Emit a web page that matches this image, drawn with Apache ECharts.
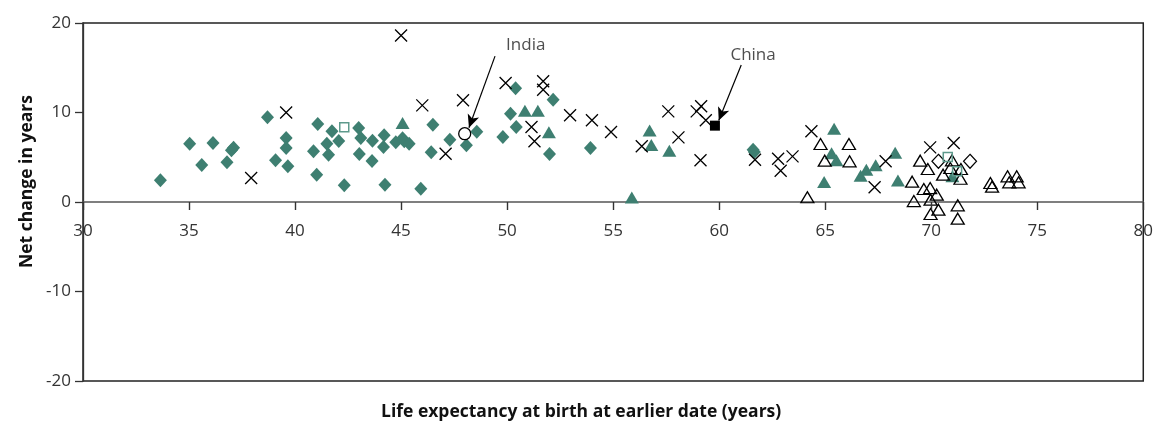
<!DOCTYPE html>
<html>
<head>
<meta charset="utf-8">
<script src="https://cdn.jsdelivr.net/npm/echarts@6/dist/echarts.min.js"></script>
<style>
html,body{margin:0;padding:0;background:#fff;}
#chart{width:1156px;height:427px;}
</style>
</head>
<body>
<div id="chart"></div>
<script>
// ---- data: [life expectancy at earlier date, net change in years] ----
const greenDiamonds = [[33.65,2.42],[35.03,6.5],[35.6,4.13],[36.13,6.59],[36.79,4.43],[37.0,5.78],[37.1,6.07],[38.7,9.46],[39.08,4.66],[39.58,7.15],[39.58,6.03],[39.66,3.99],[41.07,8.72],[40.87,5.66],[41.02,3.05],[41.74,7.9],[41.5,6.5],[41.58,5.29],[42.06,6.82],[42.32,1.86],[43.0,8.27],[43.1,7.15],[43.03,5.36],[43.65,6.85],[43.63,4.58],[44.2,7.45],[44.17,6.15],[44.24,1.94],[44.75,6.67],[45.07,7.12],[45.15,6.78],[45.38,6.51],[46.5,8.64],[46.42,5.55],[45.93,1.49],[47.3,6.96],[48.08,6.33],[48.57,7.86],[49.8,7.26],[50.4,12.7],[50.16,9.87],[50.43,8.38],[52.17,11.43],[52.0,5.36],[53.93,6.03],[61.6,5.85],[61.66,5.59]];
const greenTriangles = [[45.07,8.83],[50.84,10.2],[51.45,10.2],[51.97,7.79],[55.88,0.5],[56.72,8.0],[56.8,6.37],[57.65,5.74],[65.42,8.19],[65.3,5.44],[65.53,4.66],[64.95,2.23],[66.67,2.94],[66.94,3.6],[67.38,4.1],[68.3,5.5],[68.43,2.4],[71.0,2.87]];
const crosses = [[37.93,2.68],[39.58,10.0],[45.0,18.6],[46.0,10.8],[47.1,5.4],[47.92,11.36],[49.93,13.3],[51.15,8.38],[51.29,6.78],[51.7,13.5],[51.7,12.55],[52.97,9.69],[54.0,9.13],[54.9,7.82],[56.35,6.22],[57.6,10.13],[58.08,7.22],[58.94,10.13],[59.15,10.7],[59.37,9.13],[59.12,4.66],[61.69,4.73],[62.78,4.84],[62.9,3.5],[63.46,5.1],[64.35,7.9],[67.33,1.64],[67.85,4.55],[69.95,6.1],[71.06,6.59]];
const hollowTriangles = [[64.16,0.53],[64.78,6.48],[64.98,4.62],[66.12,6.48],[66.15,4.55],[69.1,2.27],[69.18,0.1],[69.48,4.62],[69.84,3.69],[70.9,3.8],[71.4,3.69],[70.56,3.05],[71.38,2.6],[69.65,1.45],[69.95,1.56],[70.26,0.82],[69.97,0.26],[69.97,-1.34],[70.34,-0.86],[71.25,-0.37],[71.25,-1.86],[72.79,2.12],[72.87,1.71],[73.6,2.87],[74.03,2.87],[73.68,2.2],[74.12,2.2],[70.98,4.66]];
const hollowDiamonds = [[70.34,4.55],[71.83,4.55]];
const hollowSquares = [[42.32,8.34],[70.78,5.03],[71.22,3.43]];
const india = [[48.0,7.63]];
const china = [[59.8,8.53]];
// annotations: label position and arrow (from, to) in data units
const annotationNames = ['India','China'];
const annotationText = [[50.88,17.5],[61.6,16.4]];
const annotationArrows = [[[49.43,16.3],[48.2,8.3]],[[61.04,15.3],[59.98,9.1]]];
const xTicks = {min:30,max:80,interval:5};
const yTicks = {min:-20,max:20,interval:10};
const xTickValues = [30,35,40,45,50,55,60,65,70,75,80];

const TEAL = '#3e7f71';
const FONT = "'Open Sans', sans-serif";
const chart = echarts.init(document.getElementById('chart'), null, {renderer:'canvas'});

const GRID_TOP = 23, GRID_BOTTOM = 46, H = 427;
const gridH = H - GRID_TOP - GRID_BOTTOM;
const zeroOffset = -gridH * (0 - yTicks.min) / (yTicks.max - yTicks.min);
const tickLenData = 8 * (yTicks.max - yTicks.min) / gridH;

const option = {
  animation:false,
  backgroundColor:'#fff',
  grid:{left:83,right:10,top:GRID_TOP,bottom:GRID_BOTTOM,show:true,borderColor:'#222',borderWidth:1.5,backgroundColor:'transparent'},
  xAxis:{
    type:'value', min:xTicks.min, max:xTicks.max, interval:xTicks.interval,
    position:'bottom', offset:zeroOffset,
    axisLine:{show:true,onZero:false,lineStyle:{color:'#555',width:1.6}},
    axisTick:{show:false},
    axisLabel:{fontFamily:FONT,fontSize:17,color:'#333',margin:21},
    splitLine:{show:false}
  },
  yAxis:{
    type:'value', min:yTicks.min, max:yTicks.max, interval:yTicks.interval,
    axisLine:{show:true,lineStyle:{color:'#333',width:1.3}},
    axisTick:{show:true,length:8,lineStyle:{color:'#333',width:1.3}},
    axisLabel:{fontFamily:FONT,fontSize:17,color:'#333',margin:12},
    splitLine:{show:false}
  },
  graphic:[
    {type:'text',left:18,top:95,rotation:Math.PI/2,style:{text:'Net change in years',font:"bold 17.5px 'Open Sans', sans-serif",fill:'#111'}},
    {type:'text',left:381,top:403,style:{text:'Life expectancy at birth at earlier date (years)',font:"bold 17.5px 'Open Sans', sans-serif",fill:'#111'}}
  ],
  series:[
    {type:'scatter',name:'gd',data:greenDiamonds,symbol:'diamond',symbolSize:[13,14],itemStyle:{color:TEAL,opacity:1},
      markLine:{silent:true,symbol:['none','none'],lineStyle:{color:'#333',width:1.4,type:'solid'},label:{show:false},
        data:xTickValues.map(v=>[{coord:[v,0]},{coord:[v,-tickLenData]}])}},
    {type:'scatter',name:'gt',data:greenTriangles,symbol:'triangle',symbolSize:[14,12],itemStyle:{color:TEAL,opacity:1}},
    {type:'scatter',name:'x',data:crosses,symbol:'path://M0,0L10,10M10,0L0,10',symbolSize:12,itemStyle:{color:'#000',borderColor:'#000',borderWidth:1.3,opacity:1}},
    {type:'scatter',name:'ht',data:hollowTriangles,symbol:'triangle',symbolSize:[13,11],itemStyle:{color:'rgba(255,255,255,0)',borderColor:'#000',borderWidth:1.3,opacity:1}},
    {type:'scatter',name:'hd',data:hollowDiamonds,symbol:'diamond',symbolSize:[13,14],itemStyle:{color:'rgba(255,255,255,0)',borderColor:'#000',borderWidth:1.2,opacity:1}},
    {type:'scatter',name:'hs',data:hollowSquares,symbol:'rect',symbolSize:9,itemStyle:{color:'rgba(255,255,255,0)',borderColor:'#5e9a8c',borderWidth:1.5,opacity:1}},
    {type:'scatter',name:'India',data:india,symbol:'circle',symbolSize:12,itemStyle:{color:'#fff',borderColor:'#000',borderWidth:1.3,opacity:1},
      markLine:{silent:true,symbol:['none','arrow'],symbolSize:[9,13],lineStyle:{color:'#000',width:1.2,type:'solid'},label:{show:false},
        data:annotationArrows.map(a=>[{coord:a[0]},{coord:a[1]}])}},
    {type:'scatter',name:'China',data:china,symbol:'rect',symbolSize:10,itemStyle:{color:'#000',opacity:1}},
    {type:'scatter',name:'labels',data:annotationText.map((p,i)=>({value:p,name:annotationNames[i]})),symbolSize:0,silent:true,
      label:{show:true,position:'inside',formatter:'{b}',fontFamily:FONT,fontSize:17,color:'#222'}}
  ]
};
chart.setOption(option);
</script>
</body>
</html>
